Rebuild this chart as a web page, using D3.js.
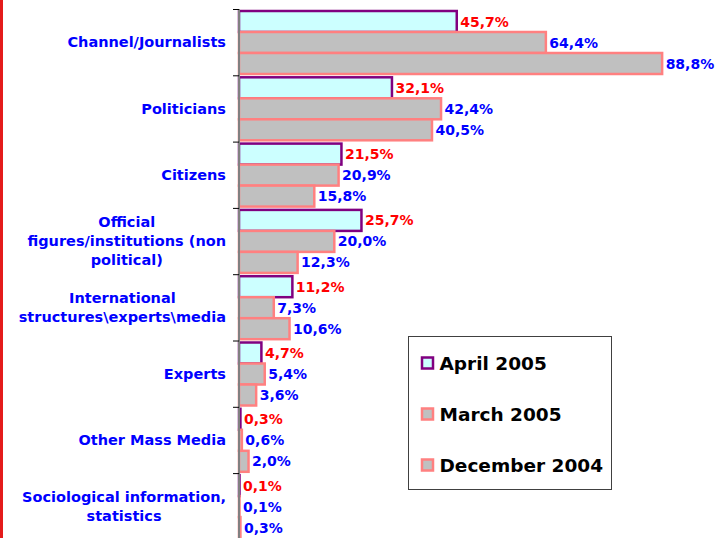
<!DOCTYPE html>
<html>
<head>
<meta charset="utf-8">
<script src="https://cdn.jsdelivr.net/npm/d3@7"></script>
<style>
  body { margin: 0; background: #fff; }
  svg { display: block; font-family: "DejaVu Sans", Verdana, sans-serif; font-weight: bold; }
</style>
</head>
<body>
<div id="chart"></div>
<script>
// data
const categories = [
  ['Channel/Journalists'],
  ['Politicians'],
  ['Citizens'],
  ['Official', 'figures/institutions (non', 'political)'],
  ['International', 'structures\\experts\\media'],
  ['Experts'],
  ['Other Mass Media'],
  ['Sociological information,', 'statistics']
];
const seriesNames = ['April 2005', 'March 2005', 'December 2004'];
const april2005 = [45.7, 32.1, 21.5, 25.7, 11.2, 4.7, 0.3, 0.1];
const march2005 = [64.4, 42.4, 20.9, 20.0, 7.3, 5.4, 0.6, 0.1];
const december2004 = [88.8, 40.5, 15.8, 12.3, 10.6, 3.6, 2.0, 0.3];

const seriesStyle = [
  { fill: '#ccffff', stroke: '#800080', label: '#ff0000' },
  { fill: '#c0c0c0', stroke: '#ff8080', label: '#0000ff' },
  { fill: '#c0c0c0', stroke: '#ff8080', label: '#0000ff' }
];

const width = 715;
const height = 538;
const axisX = 239;

const svg = d3.select('#chart')
  .append('svg')
    .attr('width', width)
    .attr('height', height);

// red slide border on the left
svg.append('rect')
  .attr('x', 0).attr('y', 0)
  .attr('width', 3).attr('height', height)
  .attr('fill', '#e41b1b');

const xScale = d3.scaleLinear()
  .domain([0, 100])
  .range([axisX, axisX + 476.5]);

const yScale = d3.scaleBand()
  .domain(d3.range(categories.length))
  .range([9, 9 + 66.3 * categories.length]);

const ySub = d3.scaleBand()
  .domain(d3.range(seriesNames.length))
  .range([2, 65]);

const allSeries = [april2005, march2005, december2004];

const rows = categories.map((c, i) => ({
  i,
  values: allSeries.map((s, k) => ({ k, v: s[i] }))
}));

const groups = svg.selectAll('g.cat')
  .data(rows)
  .enter().append('g')
    .attr('class', 'cat')
    .attr('transform', (d) => 'translate(0,' + yScale(d.i) + ')');

// bars
groups.selectAll('rect')
  .data((d) => d.values)
  .enter().append('rect')
    .attr('x', xScale(0))
    .attr('y', (d) => ySub(d.k))
    .attr('width', (d) => Math.max(xScale(d.v) - xScale(0), 0.5))
    .attr('height', ySub.bandwidth())
    .attr('fill', (d) => seriesStyle[d.k].fill)
    .attr('stroke', (d) => seriesStyle[d.k].stroke)
    .attr('stroke-width', 2.5);

// value labels
groups.selectAll('text.val')
  .data((d) => d.values)
  .enter().append('text')
    .attr('class', 'val')
    .attr('x', (d) => xScale(d.v) + 3.5)
    .attr('y', (d) => ySub(d.k) + ySub.bandwidth() / 2)
    .attr('dy', '0.36em')
    .attr('font-size', 14)
    .attr('fill', (d) => seriesStyle[d.k].label)
    .text((d) => d3.format('.1f')(d.v).replace('.', ',') + '%');

// category axis line and ticks
svg.append('line')
  .attr('x1', axisX).attr('x2', axisX)
  .attr('y1', yScale.range()[0]).attr('y2', height)
  .attr('stroke', '#808080')
  .attr('stroke-width', 2);

svg.selectAll('line.tick')
  .data(d3.range(categories.length))
  .enter().append('line')
    .attr('class', 'tick')
    .attr('x1', axisX - 6).attr('x2', axisX)
    .attr('y1', (d) => yScale(d) + 0.5)
    .attr('y2', (d) => yScale(d) + 0.5)
    .attr('stroke', '#000')
    .attr('stroke-width', 1);

// category labels, lines centred within a right-aligned block
const labelRight = axisX - 13;
const lineH = 19;
groups.each(function (d) {
  const lines = categories[d.i];
  const g = d3.select(this);
  const texts = lines.map((line, j) => g.append('text')
    .attr('font-size', 14.5)
    .attr('fill', '#0000ff')
    .attr('text-anchor', 'middle')
    .attr('y', yScale.bandwidth() / 2 + (j - (lines.length - 1) / 2) * lineH)
    .attr('dy', '0.36em')
    .text(line));
  const maxW = d3.max(texts, (t) => t.node().getComputedTextLength());
  texts.forEach((t) => t.attr('x', labelRight - maxW / 2));
});

// legend
const legend = svg.append('g')
  .attr('transform', 'translate(408.5,336.5)');

legend.append('rect')
  .attr('width', 203)
  .attr('height', 153)
  .attr('fill', '#fff')
  .attr('stroke', '#404040')
  .attr('stroke-width', 1);

const items = legend.selectAll('g.item')
  .data(seriesNames)
  .enter().append('g')
    .attr('class', 'item')
    .attr('transform', (d, i) => 'translate(0,' + (26.5 + i * 51) + ')');

items.append('rect')
  .attr('x', 13.5).attr('y', -5.5)
  .attr('width', 11).attr('height', 11)
  .attr('fill', (d, i) => seriesStyle[i].fill)
  .attr('stroke', (d, i) => seriesStyle[i].stroke)
  .attr('stroke-width', 2.5);

items.append('text')
  .attr('x', 31)
  .attr('dy', '0.36em')
  .attr('font-size', 18.5)
  .attr('fill', '#000')
  .text((d) => d);
</script>
</body>
</html>
